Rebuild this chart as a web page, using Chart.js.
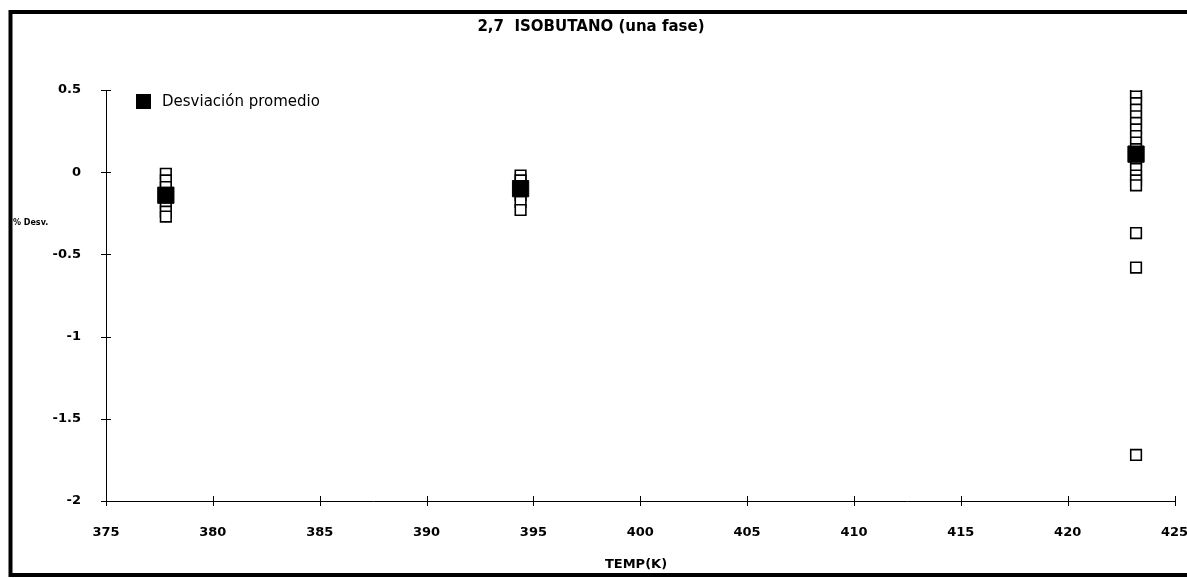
<!DOCTYPE html>
<html>
<head>
<meta charset="utf-8">
<script src="https://cdn.jsdelivr.net/npm/chart.js@4"></script>
<style>
html,body{margin:0;padding:0;background:#fff;}
#wrap{position:relative;width:1187px;height:578px;}
</style>
</head>
<body>
<div id="wrap"><canvas id="c" width="1187" height="578"></canvas></div>
<script>
// ---- data ----
const chartTitle = '2,7  ISOBUTANO (una fase)';
const xTitle = 'TEMP(K)';
const yTitle = '% Desv.';
const legendLabel = 'Desviación promedio';
const xTicks = [375, 380, 385, 390, 395, 400, 405, 410, 415, 420, 425];
const yTicks = [0.5, 0, -0.5, -1, -1.5, -2];

const temp1 = 377.8;
const dev1 = [-0.01, -0.05, -0.09, -0.19, -0.24, -0.27];
const temp2 = 394.4;
const dev2 = [-0.02, -0.05, -0.09, -0.14, -0.18, -0.23];
const temp3 = 423.2;
const dev3 = [0.49, 0.46, 0.42, 0.38, 0.34, 0.30, 0.26, 0.22, 0.18, 0.14, 0.10, 0.06, 0.02, -0.02, -0.05, -0.08, -0.37, -0.58, -1.72];

const avgTemps = [377.8, 394.4, 423.2];
const avgDev = [-0.14, -0.10, 0.11];

// ---- build datasets ----
const openPts = [];
dev1.forEach(v => openPts.push({x: temp1, y: v}));
dev2.forEach(v => openPts.push({x: temp2, y: v}));
dev3.forEach(v => openPts.push({x: temp3, y: v}));
const avgPts = avgTemps.map((t, i) => ({x: t, y: avgDev[i]}));

const FONT = '"DejaVu Sans", "Liberation Sans", Arial, sans-serif';

const decor = {
  id: 'decor',
  afterDraw(chart) {
    const ctx = chart.ctx;
    const xs = chart.scales.x, ys = chart.scales.y;
    ctx.save();
    // cross ticks
    ctx.strokeStyle = '#000';
    ctx.lineWidth = 1;
    yTicks.forEach(v => {
      const py = Math.round(ys.getPixelForValue(v)) + 0.5;
      ctx.beginPath(); ctx.moveTo(xs.left - 5, py); ctx.lineTo(xs.left + 5, py); ctx.stroke();
    });
    xTicks.forEach(v => {
      const px = Math.round(xs.getPixelForValue(v)) + 0.5;
      ctx.beginPath(); ctx.moveTo(px, ys.bottom - 5); ctx.lineTo(px, ys.bottom + 5); ctx.stroke();
    });
    // frame (left, top, bottom)
    ctx.strokeStyle = '#000';
    ctx.lineWidth = 4;
    ctx.beginPath();
    ctx.moveTo(1190, 12); ctx.lineTo(10.5, 12); ctx.lineTo(10.5, 575); ctx.lineTo(1190, 575);
    ctx.stroke();
    // title
    ctx.fillStyle = '#000';
    ctx.font = 'bold 15px ' + FONT;
    ctx.textAlign = 'center';
    ctx.textBaseline = 'middle';
    ctx.fillText(chartTitle, 591, 27);
    // x title
    ctx.font = 'bold 13px ' + FONT;
    ctx.fillText(xTitle, 636, 565);
    // y title
    ctx.font = 'bold 8px ' + FONT;
    ctx.textAlign = 'left';
    ctx.fillText(yTitle, 13, 223);
    // legend
    ctx.fillRect(136, 94, 15, 15);
    ctx.font = '15px ' + FONT;
    ctx.fillText(legendLabel, 162, 102);
    ctx.restore();
  }
};

new Chart(document.getElementById('c'), {
  type: 'scatter',
  data: {
    datasets: [
      {
        label: legendLabel,
        data: avgPts,
        pointStyle: 'rect',
        pointRadius: 11.5,
        pointHoverRadius: 11.5,
        backgroundColor: '#000',
        borderColor: '#000',
        borderWidth: 1
      },
      {
        label: 'Datos',
        data: openPts,
        pointStyle: 'rect',
        pointRadius: 7.5,
        pointHoverRadius: 7.5,
        backgroundColor: '#fff',
        borderColor: '#000',
        borderWidth: 1.6
      }
    ]
  },
  options: {
    responsive: false,
    animation: false,
    events: [],
    layout: {padding: {top: 90, right: 11, bottom: 0, left: 0}},
    plugins: {legend: {display: false}, title: {display: false}, tooltip: {enabled: false}},
    scales: {
      x: {
        type: 'linear',
        min: 375, max: 425,
        afterBuildTicks: s => { s.ticks = xTicks.map(v => ({value: v})); },
        afterFit: s => { s.height = 77; s.paddingRight = 0; s.paddingLeft = 0; },
        grid: {display: false, drawTicks: false},
        border: {display: true, color: '#000', width: 1},
        ticks: {color: '#000', font: {family: FONT, size: 13, weight: 'bold'}, padding: 24, maxRotation: 0,
                callback: v => String(v)}
      },
      y: {
        type: 'linear',
        min: -2, max: 0.5,
        afterBuildTicks: s => { s.ticks = yTicks.map(v => ({value: v})); },
        afterFit: s => { s.width = 106; s.paddingTop = 0; s.paddingBottom = 0; },
        grid: {display: false, drawTicks: false},
        border: {display: true, color: '#000', width: 1},
        ticks: {color: '#000', font: {family: FONT, size: 13, weight: 'bold'}, padding: 25,
                callback: v => String(v)}
      }
    }
  },
  plugins: [decor]
});
</script>
</body>
</html>
